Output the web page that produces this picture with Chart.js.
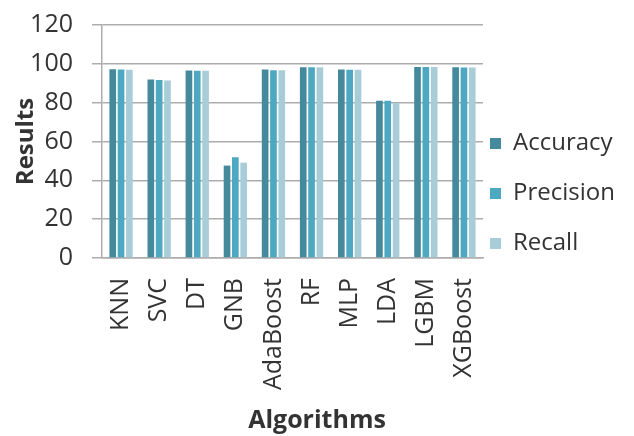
<!DOCTYPE html>
<html>
<head>
<meta charset="utf-8">
<script src="https://cdn.jsdelivr.net/npm/chart.js@4/dist/chart.umd.min.js"></script>
<style>
  html, body { margin: 0; padding: 0; background: #fff; }
  #wrap { width: 634px; height: 436px; position: relative; }
</style>
</head>
<body>
<div id="wrap"><canvas id="resultsChart"></canvas></div>
<script>
// Chart data
const algorithms = ['KNN', 'SVC', 'DT', 'GNB', 'AdaBoost', 'RF', 'MLP', 'LDA', 'LGBM', 'XGBoost'];
const accuracy  = [97.2, 91.9, 96.6, 47.6, 97.1, 98.3, 97.1, 81.0, 98.4, 98.3];
const precision = [97.1, 91.7, 96.4, 51.9, 96.7, 98.3, 97.0, 81.0, 98.4, 98.1];
const recall    = [97.0, 91.4, 96.4, 49.1, 96.7, 98.3, 97.0, 79.8, 98.4, 98.1];
const yTicks = [0, 20, 40, 60, 80, 100, 120];

const textColor = '#333333';
const gridColor = '#ADADAD';
const fontFamily = '"Open Sans", "Noto Sans", sans-serif';

// Move the legend to where Excel put it
const nudgeLegend = {
    id: 'nudgeLegend',
    afterLayout(chart) {
        const lg = chart.legend;
        if (!lg) return;
        lg.left -= 19; lg.right -= 19;
        lg.top -= 37; lg.bottom -= 37;
    }
};

new Chart(document.getElementById('resultsChart'), {
    type: 'bar',
    data: {
        labels: algorithms,
        datasets: [
            { label: 'Accuracy',  data: accuracy,  backgroundColor: '#45899C' },
            { label: 'Precision', data: precision, backgroundColor: '#4DA8C1' },
            { label: 'Recall',    data: recall,    backgroundColor: '#A8CDD9' }
        ]
    },
    options: {
        responsive: true,
        maintainAspectRatio: false,
        animation: false,
        categoryPercentage: 0.655,
        barPercentage: 0.8,
        layout: { padding: { top: 25, right: 0, bottom: 0, left: 0 } },
        scales: {
            x: {
                afterFit: axis => { axis.height = 138; },
                grid: { display: false, drawTicks: false },
                border: { display: true, color: gridColor, width: 1.5 },
                ticks: {
                    color: textColor,
                    font: { family: fontFamily, size: 25 },
                    minRotation: 90,
                    maxRotation: 90,
                    padding: 20,
                    autoSkip: false
                }
            },
            y: {
                min: 0,
                max: 120,
                afterBuildTicks: axis => { axis.ticks = yTicks.map(v => ({ value: v })); },
                afterFit: axis => { axis.width = 102; axis.paddingTop = 0; },
                grid: { color: gridColor, lineWidth: 1.5, tickLength: 10 },
                border: { display: true, color: gridColor, width: 1.5 },
                ticks: {
                    color: textColor,
                    font: { family: fontFamily, size: 25 },
                    padding: 19
                },
                title: {
                    display: true,
                    text: 'Results',
                    color: textColor,
                    font: { family: fontFamily, size: 24, weight: 'bold', lineHeight: 1 },
                    padding: { top: 14, bottom: 0 }
                }
            }
        },
        plugins: {
            legend: {
                position: 'right',
                align: 'center',
                maxWidth: 151,
                labels: {
                    color: textColor,
                    font: { family: fontFamily, size: 24 },
                    boxWidth: 11,
                    boxHeight: 11,
                    padding: 26
                }
            },
            title: {
                display: true,
                position: 'bottom',
                text: 'Algorithms',
                color: textColor,
                font: { family: fontFamily, size: 25, weight: 'bold' },
                padding: { top: 10, bottom: 0 }
            },
            tooltip: { enabled: false }
        }
    },
    plugins: [nudgeLegend]
});
</script>
</body>
</html>
